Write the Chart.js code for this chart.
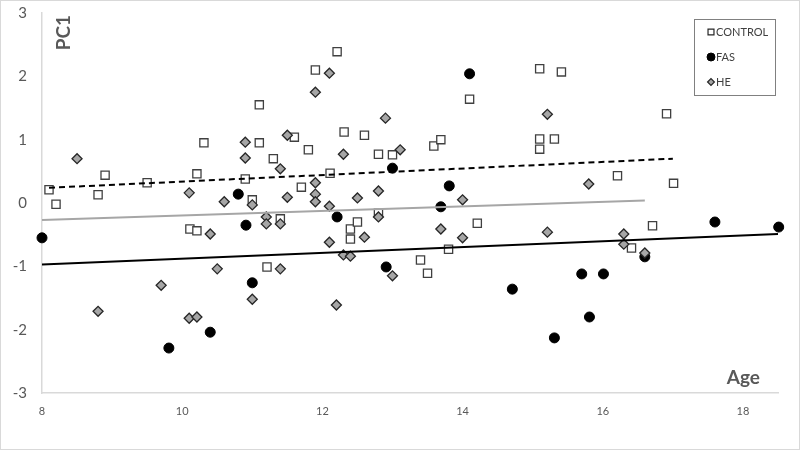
<!DOCTYPE html>
<html>
<head>
<meta charset="utf-8">
<title>PC1 by Age</title>
<script src="https://cdn.jsdelivr.net/npm/chart.js@4.4.1/dist/chart.umd.min.js"></script>
<style>
html,body{margin:0;padding:0;background:#fff;}
#wrap{position:relative;width:800px;height:450px;}
</style>
</head>
<body>
<div id="wrap"><canvas id="c" width="800" height="450"></canvas></div>
<script>
(function(){
'use strict';

// values
var controlAge = [8.1,8.2,8.8,8.9,9.5,10.21,10.31,10.11,10.21,10.9,11.0,11.1,11.1,11.21,11.3,11.4,11.6,11.7,11.8,11.9,12.11,12.21,12.31,12.4,12.4,12.5,12.6,12.8,12.8,13.0,13.4,13.5,13.59,13.69,13.8,14.1,14.21,15.1,15.1,15.1,15.31,15.41,16.21,16.41,16.71,16.91,17.01];
var controlPC1 = [0.21,-0.02,0.13,0.44,0.32,0.46,0.95,-0.41,-0.44,0.38,0.05,1.55,0.95,-1.01,0.70,-0.25,1.04,0.25,0.84,2.10,0.47,2.39,1.12,-0.41,-0.57,-0.30,1.07,0.77,-0.16,0.76,-0.90,-1.11,0.90,1.00,-0.73,1.64,-0.32,2.12,1.01,0.85,1.01,2.07,0.43,-0.71,-0.36,1.41,0.31];

var fasAge = [8.0,9.81,10.4,10.8,10.91,11.0,12.21,12.91,13.0,13.69,13.81,14.1,14.71,15.31,15.7,15.81,16.01,16.6,17.6,18.51];
var fasPC1 = [-0.55,-2.29,-2.04,0.14,-0.35,-1.26,-0.22,-1.01,0.55,-0.06,0.27,2.04,-1.36,-2.13,-1.12,-1.80,-1.12,-0.85,-0.30,-0.38];

var heAge = [8.5,8.8,9.7,10.1,10.1,10.21,10.4,10.5,10.6,10.9,10.9,11.0,11.0,11.2,11.2,11.4,11.4,11.4,11.5,11.5,11.9,11.9,11.9,11.9,12.1,12.1,12.1,12.2,12.3,12.3,12.4,12.5,12.6,12.8,12.8,12.9,13.0,13.11,13.69,14.0,14.0,15.21,15.21,15.8,16.3,16.3,16.6];
var hePC1 = [0.70,-1.71,-1.30,0.16,-1.82,-1.80,-0.49,-1.04,0.02,0.96,0.71,-0.03,-1.52,-0.22,-0.33,0.54,-0.33,-1.04,1.07,0.09,1.75,0.32,0.14,0.02,2.05,-0.05,-0.62,-1.61,0.77,-0.82,-0.84,0.08,-0.54,0.19,-0.22,1.34,-1.15,0.84,-0.41,0.05,-0.55,1.40,-0.46,0.30,-0.49,-0.65,-0.79];

// linear trend lines, end points
var controlTrendAge = [8.1,17.0];
var controlTrendPC1 = [0.24,0.70];
var fasTrendAge = [8.0,18.5];
var fasTrendPC1 = [-0.97,-0.49];
var heTrendAge = [8.0,16.6];
var heTrendPC1 = [-0.27,0.04];

var xTicks = [8,10,12,14,16,18];
var yTicks = [-3,-2,-1,0,1,2,3];
var seriesNames = ['CONTROL','FAS','HE'];

var FONT = 'Lato, "Open Sans", sans-serif';

function pts(xs, ys) {
  var out = [];
  for (var i=0;i<xs.length;i++) out.push({x:xs[i], y:ys[i]});
  return out;
}

var markerStyles = [
  {pointStyle:'rect', radius:5.8, bg:'#ffffff', border:'#404040', bw:1.3},
  {pointStyle:'circle', radius:5, bg:'#000000', border:'#000000', bw:1},
  {pointStyle:'rectRot', radius:5, bg:'#a6a6a6', border:'#262626', bw:1.3}
];

function scatterSet(label, data, st, order) {
  return {
    type:'scatter', label:label, data:data, order:order, clip:false,
    pointStyle:st.pointStyle, pointRadius:st.radius, pointHoverRadius:st.radius,
    backgroundColor:st.bg, borderColor:st.border, pointBorderWidth:st.bw, borderWidth:st.bw
  };
}

function trendSet(data, color, dash) {
  return {
    type:'line', data:data, order:0,
    borderColor:color, borderWidth:2, borderDash:dash,
    pointRadius:0, fill:false, tension:0
  };
}

var outerBorder = {
  id:'outerBorder',
  beforeDraw:function(chart){
    var ctx = chart.ctx;
    ctx.save();
    ctx.fillStyle = '#ffffff';
    ctx.fillRect(0,0,chart.width,chart.height);
    ctx.strokeStyle = '#d9d9d9';
    ctx.lineWidth = 1;
    ctx.strokeRect(0.5,0.5,chart.width-1,chart.height-1);
    ctx.restore();
  }
};

var axisTitles = {
  id:'axisTitles',
  afterDraw:function(chart){
    var ctx = chart.ctx;
    ctx.save();
    ctx.fillStyle = '#595959';
    ctx.font = 'bold 19px ' + FONT;
    ctx.textBaseline = 'alphabetic';
    ctx.textAlign = 'right';
    ctx.fillText('Age', 760, 384);
    ctx.translate(70, 15);
    ctx.rotate(-Math.PI/2);
    ctx.textAlign = 'right';
    ctx.fillText('PC1', 0, 0);
    ctx.restore();
  }
};

var legendBox = {
  id:'legendBox',
  afterDraw:function(chart){
    var ctx = chart.ctx;
    ctx.save();
    ctx.strokeStyle = '#808080';
    ctx.lineWidth = 1;
    ctx.strokeRect(694.5,19.5,81,76);
    var legendMarkers = [
      {pointStyle:'rect', radius:4.2, bg:'#ffffff', border:'#262626', bw:1.2},
      {pointStyle:'circle', radius:4, bg:'#000000', border:'#000000', bw:1},
      {pointStyle:'rectRot', radius:3.4, bg:'#a6a6a6', border:'#262626', bw:1.2}
    ];
    for (var i=0;i<seriesNames.length;i++) {
      var y = 32 + i*25;
      var m = legendMarkers[i];
      ctx.fillStyle = m.bg;
      ctx.strokeStyle = m.border;
      ctx.lineWidth = m.bw;
      Chart.helpers.drawPoint(ctx, {pointStyle:m.pointStyle, radius:m.radius, borderWidth:m.bw, rotation:0}, 711, y);
      ctx.fillStyle = '#404040';
      ctx.font = '11px ' + FONT;
      ctx.textAlign = 'left';
      ctx.textBaseline = 'middle';
      ctx.fillText(seriesNames[i], 716, y + 0.5);
    }
    ctx.restore();
  }
};

var ctx = document.getElementById('c').getContext('2d');
new Chart(ctx, {
  type:'scatter',
  data:{
    datasets:[
      trendSet(pts(controlTrendAge, controlTrendPC1), '#000000', [6,4]),
      trendSet(pts(heTrendAge, heTrendPC1), '#a6a6a6', []),
      trendSet(pts(fasTrendAge, fasTrendPC1), '#000000', []),
      scatterSet(seriesNames[2], pts(heAge, hePC1), markerStyles[2], 1),
      scatterSet(seriesNames[1], pts(fasAge, fasPC1), markerStyles[1], 2),
      scatterSet(seriesNames[0], pts(controlAge, controlPC1), markerStyles[0], 3)
    ]
  },
  options:{
    responsive:false,
    devicePixelRatio:1,
    animation:false,
    layout:{padding:{left:0,right:22,top:13,bottom:0}},
    scales:{
      x:{
        type:'linear', min:8, max:18.5,
        afterBuildTicks:function(s){ s.ticks = xTicks.map(function(v){return {value:v};}); },
        afterFit:function(s){ s.height = 57; s.paddingLeft = 0; s.paddingRight = 0; },
        grid:{display:false, drawTicks:false},
        border:{display:true, color:'#d9d9d9', width:1.5},
        ticks:{color:'#595959', padding:12, font:{family:FONT, size:11}, maxRotation:0}
      },
      y:{
        type:'linear', min:-3, max:3,
        afterBuildTicks:function(s){ s.ticks = yTicks.map(function(v){return {value:v};}); },
        afterFit:function(s){ s.width = 42; s.paddingTop = 0; s.paddingBottom = 0; },
        grid:{display:false, drawTicks:false},
        border:{display:true, color:'#d9d9d9', width:1.5},
        ticks:{color:'#595959', padding:15, font:{family:FONT, size:15}}
      }
    },
    plugins:{
      legend:{display:false},
      tooltip:{enabled:false}
    }
  },
  plugins:[outerBorder, axisTitles, legendBox]
});

})();
</script>
</body>
</html>
